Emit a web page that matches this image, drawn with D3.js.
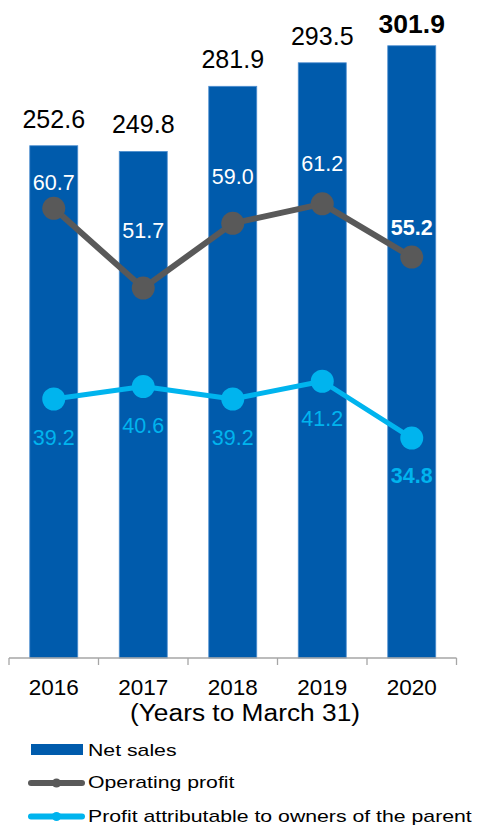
<!DOCTYPE html>
<html>
<head>
<meta charset="utf-8">
<script src="https://cdn.jsdelivr.net/npm/d3@7"></script>
<style>
  html, body { margin: 0; padding: 0; background: #fff; }
  svg { display: block; font-family: "Liberation Sans", Arial, sans-serif; }
</style>
</head>
<body>
<svg id="chart" width="477" height="827"></svg>
<script>
// ---- data ----
const years = ["2016", "2017", "2018", "2019", "2020"];
const netSales = [252.6, 249.8, 281.9, 293.5, 301.9];
const operatingProfit = [60.7, 51.7, 59.0, 61.2, 55.2];
const profitOwners = [39.2, 40.6, 39.2, 41.2, 34.8];
const axisTitle = "(Years to March 31)";
const legendLabels = ["Net sales", "Operating profit", "Profit attributable to owners of the parent"];

// ---- layout ----
const svg = d3.select("#chart");
const plotLeft = 9, plotRight = 456.5, baseY = 658;
const barW = 48;
const opLabelDy = [-18, -50, -39, -33, -22];
const poLabelDy = [46, 46, 46, 45, 45];
const salesLabelDy = [-18, -18, -18, -18, -13];

const colBar = "#005BAC", colOp = "#595959", colPo = "#00B4EE";

const x = d3.scaleBand().domain(years).range([plotLeft, plotRight]).padding(0);
const cx = d => x(d) + x.bandwidth() / 2;
const yBar = d3.scaleLinear().domain([0, 320]).range([baseY, baseY - 320 * 2.028]);
const yLine = d3.scaleLinear().domain([10, 80]).range([baseY, baseY - 70 * 8.87]);

// bars
svg.append("g").selectAll("rect").data(years).join("rect")
  .attr("x", d => cx(d) - barW / 2)
  .attr("width", barW)
  .attr("y", (d, i) => yBar(netSales[i]))
  .attr("height", (d, i) => yBar(0) - yBar(netSales[i]))
  .attr("fill", colBar)
  .attr("stroke", "#4f8fd0")
  .attr("stroke-width", 0.8);

// bar labels
svg.append("g").selectAll("text").data(years).join("text")
  .attr("x", d => cx(d))
  .attr("y", (d, i) => yBar(netSales[i]) + salesLabelDy[i])
  .attr("text-anchor", "middle")
  .attr("font-size", (d, i) => i === 4 ? 26.5 : 25)
  .attr("font-weight", (d, i) => i === 4 ? "bold" : "normal")
  .attr("fill", "#000")
  .text((d, i) => netSales[i].toFixed(1));

// axis
const axisG = svg.append("g").attr("transform", `translate(0,${baseY})`);
axisG.append("line").attr("x1", plotLeft).attr("x2", plotRight).attr("y1", 0).attr("y2", 0)
  .attr("stroke", "#a6a6a6").attr("stroke-width", 1.3);
const tickPos = years.map(d => x(d)).concat([plotRight]);
axisG.selectAll("line.tick").data(tickPos).join("line").attr("class", "tick")
  .attr("x1", d => d).attr("x2", d => d).attr("y1", 0).attr("y2", 7)
  .attr("stroke", "#a6a6a6").attr("stroke-width", 1.3);
axisG.selectAll("text.yr").data(years).join("text").attr("class", "yr")
  .attr("x", d => cx(d)).attr("y", 36.5)
  .attr("text-anchor", "middle").attr("font-size", 22.5).attr("fill", "#000")
  .text(d => d);
svg.append("text").attr("transform", "translate(245,720.5) scale(1.12,1)")
  .attr("text-anchor", "middle")
  .attr("font-size", 23.5).attr("fill", "#000").text(axisTitle);

// lines
function drawSeries(vals, color, width) {
  const line = d3.line().x((d, i) => cx(years[i])).y(d => yLine(d));
  svg.append("path").datum(vals).attr("d", line)
    .attr("fill", "none").attr("stroke", color).attr("stroke-width", width)
    .attr("stroke-linejoin", "round");
  svg.append("g").selectAll("circle").data(vals).join("circle")
    .attr("cx", (d, i) => cx(years[i])).attr("cy", d => yLine(d))
    .attr("r", 11.5).attr("fill", color);
}
drawSeries(operatingProfit, colOp, 6);
drawSeries(profitOwners, colPo, 5);

// line labels
svg.append("g").selectAll("text").data(operatingProfit).join("text")
  .attr("x", (d, i) => cx(years[i]))
  .attr("y", (d, i) => yLine(d) + opLabelDy[i])
  .attr("text-anchor", "middle")
  .attr("font-size", 21.5)
  .attr("font-weight", (d, i) => i === 4 ? "bold" : "normal")
  .attr("fill", "#fff")
  .text(d => d.toFixed(1));
svg.append("g").selectAll("text").data(profitOwners).join("text")
  .attr("x", (d, i) => cx(years[i]))
  .attr("y", (d, i) => yLine(d) + poLabelDy[i])
  .attr("text-anchor", "middle")
  .attr("font-size", 21.5)
  .attr("font-weight", (d, i) => i === 4 ? "bold" : "normal")
  .attr("fill", colPo)
  .text(d => d.toFixed(1));

// legend
const lg = svg.append("g");
const legendText = (ty, t) => lg.append("text")
  .attr("transform", `translate(88,${ty}) scale(1.25,1)`)
  .attr("font-size", 17).attr("fill", "#000").text(t);
lg.append("rect").attr("x", 31).attr("y", 744).attr("width", 52).attr("height", 11).attr("fill", colBar);
legendText(755.5, legendLabels[0]);
[[colOp, 783, 788, legendLabels[1]], [colPo, 816.5, 821.5, legendLabels[2]]].forEach(([c, ly, ty, t]) => {
  lg.append("line").attr("x1", 31).attr("x2", 82).attr("y1", ly).attr("y2", ly)
    .attr("stroke", c).attr("stroke-width", 6).attr("stroke-linecap", "round");
  lg.append("circle").attr("cx", 56.5).attr("cy", ly).attr("r", 4.5).attr("fill", c);
  legendText(ty, t);
});
</script>
</body>
</html>
